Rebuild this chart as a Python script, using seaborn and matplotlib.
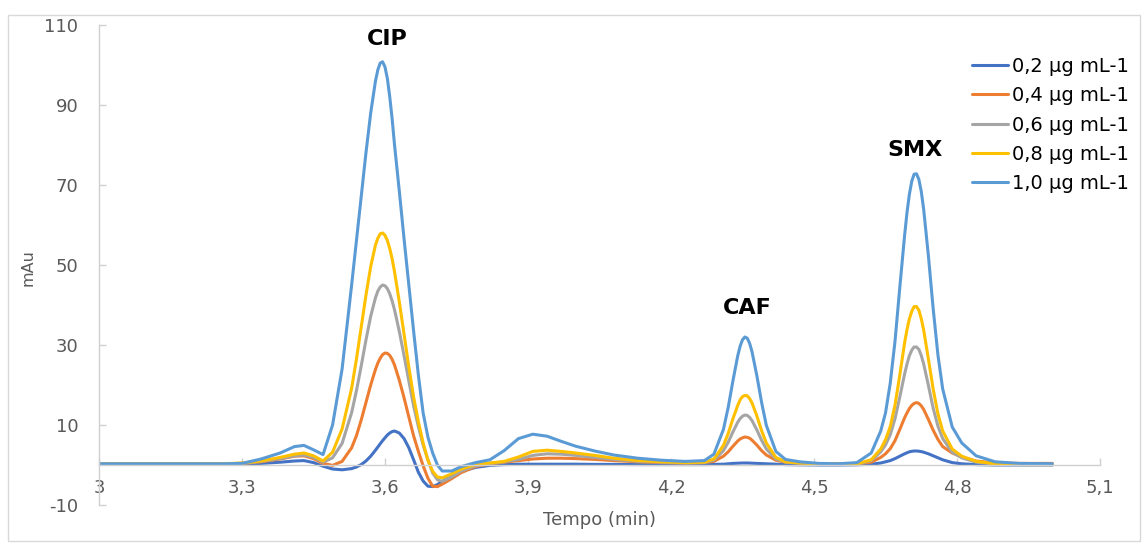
import numpy as np
import pandas as pd
import matplotlib
matplotlib.use("Agg")
import matplotlib.pyplot as plt
from matplotlib.patches import Rectangle
import seaborn as sns

# ---------------- data ----------------
time_min = [3.00, 3.10, 3.20, 3.26, 3.30, 3.34, 3.38, 3.41, 3.43, 3.45,
            3.47, 3.49, 3.51, 3.53, 3.54, 3.55, 3.56, 3.57, 3.58, 3.585,
            3.59, 3.595, 3.60, 3.605, 3.61, 3.615, 3.62, 3.63, 3.64, 3.65,
            3.66, 3.67, 3.68, 3.69, 3.70, 3.71, 3.72, 3.74, 3.76, 3.79,
            3.82, 3.85, 3.88, 3.91, 3.94, 3.97, 4.00, 4.04, 4.08, 4.13,
            4.18, 4.23, 4.27, 4.29, 4.31, 4.32, 4.33, 4.34, 4.345, 4.35,
            4.355, 4.36, 4.365, 4.37, 4.38, 4.39, 4.40, 4.42, 4.44, 4.47,
            4.51, 4.55, 4.59, 4.62, 4.64, 4.65, 4.66, 4.67, 4.68, 4.69,
            4.695, 4.70, 4.705, 4.71, 4.715, 4.72, 4.725, 4.73, 4.74, 4.75,
            4.76, 4.77, 4.79, 4.81, 4.84, 4.88, 4.93, 5.00]

conc_02 = [0.2, 0.2, 0.2, 0.2, 0.25, 0.4, 0.7, 1.0, 1.1, 0.6,
           -0.3, -1.0, -1.2, -0.9, -0.5, 0.1, 1.0, 2.2, 3.7, 4.5,
           5.3, 6.1, 6.8, 7.5, 8.0, 8.35, 8.5, 8.0, 6.6, 4.3,
           1.3, -1.8, -4.0, -5.3, -5.4, -4.9, -4.1, -2.8, -1.6, -0.6,
           -0.1, 0.1, 0.2, 0.2, 0.2, 0.2, 0.2, 0.15, 0.15, 0.1,
           0.1, 0.1, 0.1, 0.15, 0.2, 0.3, 0.4, 0.45, 0.48, 0.5,
           0.5, 0.5, 0.48, 0.45, 0.4, 0.35, 0.3, 0.2, 0.1, 0.05,
           0.0, 0.0, 0.05, 0.2, 0.5, 0.8, 1.1, 1.6, 2.2, 2.8,
           3.05, 3.3, 3.42, 3.5, 3.5, 3.45, 3.35, 3.2, 2.8, 2.3,
           1.8, 1.3, 0.6, 0.3, 0.1, 0.0, 0.0, 0.0]

conc_04 = [0.3, 0.3, 0.3, 0.3, 0.4, 0.8, 1.5, 2.2, 2.3, 1.6,
           0.4, -0.1, 0.9, 4.3, 7.3, 11.2, 15.6, 20.0, 23.9, 25.5,
           26.7, 27.6, 28.0, 27.9, 27.4, 26.4, 25.0, 21.2, 16.8, 12.0,
           7.3, 3.4, -0.2, -3.3, -5.3, -5.4, -4.8, -3.4, -1.9, -0.4,
           0.3, 0.7, 1.1, 1.5, 1.7, 1.7, 1.6, 1.4, 1.1, 0.8,
           0.6, 0.5, 0.6, 0.9, 2.2, 3.3, 4.7, 6.0, 6.5, 6.8,
           7.0, 6.9, 6.7, 6.2, 5.0, 3.6, 2.5, 1.2, 0.7, 0.5,
           0.3, 0.3, 0.3, 0.7, 1.9, 2.8, 4.1, 6.1, 8.9, 11.8,
           13.0, 14.1, 14.9, 15.4, 15.6, 15.4, 14.8, 13.9, 11.4, 8.7,
           6.4, 4.6, 3.0, 2.0, 1.0, 0.5, 0.4, 0.4]

conc_06 = [0.3, 0.3, 0.3, 0.3, 0.4, 0.9, 1.6, 2.3, 2.5, 1.9,
           0.7, 1.8, 5.4, 13.1, 18.5, 24.7, 31.2, 37.2, 41.8, 43.5,
           44.5, 45.0, 44.8, 44.1, 42.8, 41.0, 38.8, 33.4, 27.3, 21.0,
           14.8, 9.6, 5.0, 1.3, -2.0, -3.7, -4.1, -3.0, -1.5, -0.2,
           0.4, 0.8, 1.4, 2.4, 2.8, 2.7, 2.4, 1.9, 1.4, 0.9,
           0.7, 0.5, 0.6, 1.2, 3.6, 5.7, 8.3, 10.7, 11.6, 12.2,
           12.5, 12.4, 11.9, 11.1, 8.8, 6.2, 4.0, 1.5, 0.7, 0.5,
           0.3, 0.2, 0.2, 1.1, 3.3, 5.0, 7.6, 11.6, 17.0, 22.7,
           25.2, 27.3, 28.7, 29.5, 29.5, 28.9, 27.4, 25.3, 19.9, 14.2,
           9.7, 6.6, 3.2, 1.8, 0.7, 0.3, 0.2, 0.2]

conc_08 = [0.3, 0.3, 0.3, 0.3, 0.5, 1.0, 1.9, 2.7, 3.0, 2.3,
           1.0, 3.2, 9.0, 19.2, 26.4, 34.4, 42.4, 49.6, 55.0, 56.7,
           57.8, 58.0, 57.4, 56.1, 54.1, 51.5, 48.3, 40.8, 32.7, 24.5,
           17.0, 10.8, 5.5, 1.2, -1.6, -3.0, -3.2, -2.2, -1.0, 0.1,
           0.5, 0.9, 2.0, 3.4, 3.7, 3.4, 3.0, 2.4, 1.7, 1.1,
           0.8, 0.6, 0.7, 1.5, 4.9, 7.9, 11.6, 14.9, 16.3, 17.1,
           17.4, 17.3, 16.6, 15.5, 12.3, 8.6, 5.5, 1.9, 0.8, 0.5,
           0.3, 0.2, 0.3, 1.3, 4.0, 6.3, 9.6, 15.0, 22.5, 30.5,
           33.8, 36.5, 38.4, 39.6, 39.6, 38.7, 36.6, 33.8, 26.5, 19.0,
           12.8, 8.5, 4.0, 2.2, 0.9, 0.3, 0.1, 0.1]

conc_10 = [0.3, 0.3, 0.3, 0.3, 0.4, 1.5, 3.0, 4.6, 4.9, 3.8,
           2.6, 10.0, 24.0, 45.0, 56.0, 67.0, 78.0, 88.0, 96.0, 98.8,
           100.5, 100.8, 99.5, 96.6, 92.0, 86.5, 80.0, 68.5, 56.5, 45.0,
           33.5, 22.5, 13.0, 7.0, 3.0, 0.0, -1.5, -1.5, -0.4, 0.6,
           1.3, 3.6, 6.6, 7.7, 7.2, 5.9, 4.7, 3.5, 2.5, 1.7,
           1.2, 0.9, 1.1, 2.7, 8.9, 14.4, 21.1, 27.3, 29.7, 31.3,
           32.0, 31.7, 30.4, 28.3, 22.4, 15.7, 9.9, 3.4, 1.4, 0.8,
           0.4, 0.3, 0.6, 3.0, 8.5, 13.0, 20.5, 31.0, 44.4, 57.3,
           63.0, 67.6, 70.9, 72.7, 72.8, 71.4, 68.4, 64.0, 52.3, 39.1,
           27.5, 19.0, 9.5, 5.5, 2.3, 0.8, 0.4, 0.3]

series_labels = ["0,2 µg mL-1", "0,4 µg mL-1", "0,6 µg mL-1",
                 "0,8 µg mL-1", "1,0 µg mL-1"]
series_values = [conc_02, conc_04, conc_06, conc_08, conc_10]
series_colors = ["#4472C4", "#ED7D31", "#A5A5A5", "#FFC000", "#5B9BD5"]

x_ticks = [3.0, 3.3, 3.6, 3.9, 4.2, 4.5, 4.8, 5.1]
x_tick_labels = ["3", "3,3", "3,6", "3,9", "4,2", "4,5", "4,8", "5,1"]
y_ticks = [-10, 10, 30, 50, 70, 90, 110]
y_tick_labels = ["-10", "10", "30", "50", "70", "90", "110"]

peak_names = ["CIP", "CAF", "SMX"]
peak_label_x = [3.604, 4.359, 4.712]
peak_label_y = [106.5, 39.3, 78.8]

# ---------------- figure ----------------
sns.set_theme(style="white")
plt.rcParams["font.family"] = ["DejaVu Sans"]
plt.rcParams["axes.unicode_minus"] = False

W, H = 1145, 545
fig = plt.figure(figsize=(W / 100, H / 100), dpi=100)
ax = fig.add_axes([99 / W, 1 - 505 / H, (1100 - 99) / W, 480 / H])

df = pd.concat(
    [pd.DataFrame({"Tempo": time_min, "mAu": vals, "conc": lab})
     for vals, lab in zip(series_values, series_labels)],
    ignore_index=True)

sns.lineplot(data=df, x="Tempo", y="mAu", hue="conc",
             hue_order=series_labels, palette=series_colors,
             sort=False, estimator=None, linewidth=2.2, ax=ax,
             legend=True)
for ln in ax.get_lines():
    ln.set_solid_joinstyle("round")
    ln.set_solid_capstyle("round")

ax.set_xlim(3.0, 5.1)
ax.set_ylim(-10, 110)
ax.set_xticks(x_ticks)
ax.set_xticklabels(x_tick_labels)
ax.set_yticks(y_ticks)
ax.set_yticklabels(y_tick_labels)

axis_grey = "#D0D0D0"
text_grey = "#595959"
for s in ["top", "right"]:
    ax.spines[s].set_visible(False)
ax.spines["bottom"].set_position(("data", 0))
ax.spines["bottom"].set_color(axis_grey)
ax.spines["left"].set_color(axis_grey)
ax.spines["bottom"].set_linewidth(1.0)
ax.spines["left"].set_linewidth(1.0)

ax.tick_params(axis="x", direction="in", length=5, width=1, color=axis_grey,
               pad=10, labelsize=13, labelcolor=text_grey, bottom=True)
ax.tick_params(axis="y", direction="in", length=5, width=1, color=axis_grey,
               pad=15, labelsize=13, labelcolor=text_grey, left=True)

ax.set_xlabel("Tempo (min)", fontsize=13, color=text_grey)
ax.xaxis.set_label_coords(0.5, (505 - 520) / 480)
ax.xaxis.label.set_verticalalignment("center")
ax.set_ylabel("mAu", fontsize=11.5, color=text_grey)
ax.yaxis.set_label_coords((28 - 99) / 1001, (505 - 268) / 480)
ax.yaxis.label.set_verticalalignment("center")

for name, px, py in zip(peak_names, peak_label_x, peak_label_y):
    ax.text(px, py, name, ha="center", va="center", fontsize=16,
            fontweight="bold", color="black")

handles, labels = ax.get_legend_handles_labels()
leg = ax.legend(handles, labels, loc="upper left",
                bbox_to_anchor=(972 / W, 1 - 57 / H),
                bbox_transform=fig.transFigure, frameon=False,
                fontsize=14, handlelength=1.85, handletextpad=0.2,
                labelspacing=0.53, borderpad=0, borderaxespad=0)
for t in leg.get_texts():
    t.set_color("black")
for lh in leg.get_lines():
    lh.set_linewidth(2.2)

fig.patches.append(Rectangle((8 / W, 1 - 541 / H), (1140 - 8) / W, (541 - 15) / H,
                             transform=fig.transFigure, fill=False,
                             edgecolor="#D9D9D9", linewidth=1.0))

fig.savefig("out.png", dpi=100)
